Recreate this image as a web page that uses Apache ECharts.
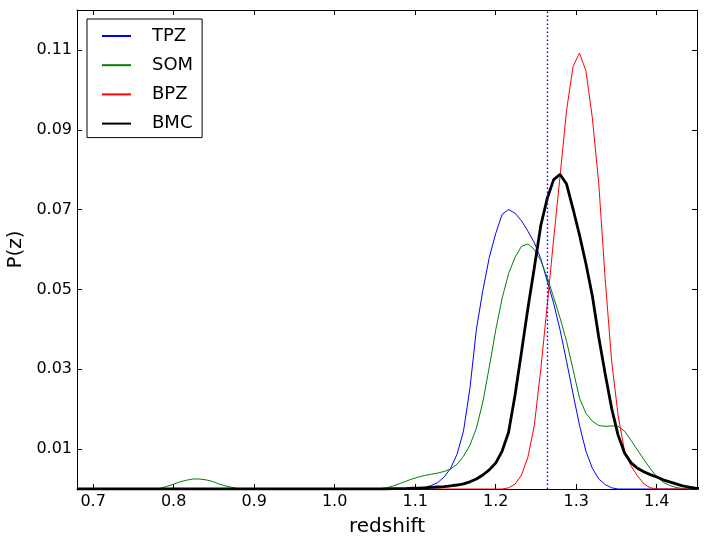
<!DOCTYPE html>
<html>
<head>
<meta charset="utf-8">
<script src="https://cdn.jsdelivr.net/npm/echarts@6/dist/echarts.min.js"></script>
<style>
  html, body { margin: 0; padding: 0; background: #fff; }
  #chart { width: 708px; height: 542px; }
</style>
</head>
<body>
<div id="chart"></div>
<script>
// redshift grid (step 0.008) for the main peak region
const redshift = [1.048, 1.056, 1.064, 1.072, 1.080, 1.088, 1.096, 1.104, 1.112, 1.120,
  1.128, 1.136, 1.144, 1.152, 1.160, 1.168, 1.176, 1.184, 1.192, 1.200,
  1.208, 1.216, 1.224, 1.232, 1.240, 1.248, 1.256, 1.264, 1.272, 1.280,
  1.288, 1.296, 1.304, 1.312, 1.320, 1.328, 1.336, 1.344, 1.352, 1.360,
  1.368, 1.376, 1.384, 1.392, 1.400, 1.408, 1.416, 1.424, 1.432, 1.440,
  1.448, 1.456];

const tpz = [0, 0, 0, 0, 0, 0, 0, 0.0001, 0.0004, 0.0009,
  0.0016, 0.003, 0.0052, 0.0087, 0.0145, 0.0252, 0.040, 0.0497, 0.058, 0.064,
  0.0688, 0.0700, 0.0691, 0.0672, 0.0646, 0.0617, 0.0577, 0.0521, 0.0465, 0.0398,
  0.032, 0.0239, 0.016, 0.0095, 0.0052, 0.0025, 0.0011, 0.0003, 0, 0,
  0, 0, 0, 0, 0, 0, 0, 0, 0, 0,
  0, 0];

const som = [0, 0.0001, 0.0003, 0.0007, 0.0013, 0.0019, 0.0025, 0.003, 0.0034, 0.0037,
  0.004, 0.0044, 0.005, 0.0062, 0.0082, 0.0110, 0.0152, 0.0218, 0.0305, 0.0398,
  0.0478, 0.054, 0.058, 0.0608, 0.0614, 0.060, 0.0572, 0.053, 0.048, 0.0428,
  0.037, 0.030, 0.0228, 0.019, 0.017, 0.0159, 0.0157, 0.0158, 0.0157, 0.0145,
  0.0122, 0.0098, 0.0074, 0.0051, 0.0031, 0.0017, 0.0009, 0.0004, 0.0001, 0,
  0, 0];

// small secondary SOM bump near z ~ 0.83
const somBumpZ = [0.776, 0.784, 0.792, 0.800, 0.808, 0.816, 0.824, 0.832, 0.840, 0.848,
  0.856, 0.864, 0.872, 0.880, 0.888];
const somBumpP = [0, 0.0002, 0.0007, 0.0012, 0.0018, 0.0022, 0.0025, 0.0025, 0.0023, 0.0019,
  0.0013, 0.0008, 0.0004, 0.0001, 0];

const bpz = [0, 0, 0, 0, 0, 0, 0, 0, 0, 0,
  0, 0, 0, 0, 0, 0, 0, 0, 0, 0,
  0, 0.0003, 0.0012, 0.0035, 0.008, 0.016, 0.030, 0.046, 0.0627, 0.0785,
  0.0948, 0.1058, 0.1092, 0.1048, 0.093, 0.0765, 0.0525, 0.032, 0.0185, 0.0095,
  0.0058, 0.0033, 0.0013, 0.0003, 0, 0, 0, 0, 0, 0,
  0, 0];

const bmc = [0, 0, 0, 0.0001, 0.0001, 0.0001, 0.0002, 0.0002, 0.0003, 0.0004,
  0.0005, 0.0006, 0.0008, 0.001, 0.0013, 0.0018, 0.0025, 0.0035, 0.0048, 0.0065,
  0.0095, 0.0142, 0.0235, 0.0343, 0.0453, 0.0555, 0.066, 0.0728, 0.0775, 0.0788,
  0.0764, 0.0702, 0.0637, 0.0565, 0.0484, 0.038, 0.0288, 0.0202, 0.0135, 0.009,
  0.0066, 0.0052, 0.0043, 0.0036, 0.003, 0.0023, 0.0018, 0.0013, 0.0008, 0.0005,
  0.0002, 0.0001];

const zMarker = 1.2643;

const xTicks = [0.7, 0.8, 0.9, 1.0, 1.1, 1.2, 1.3, 1.4];
const yTicks = [0.01, 0.03, 0.05, 0.07, 0.09, 0.11];

function pairs(z, p) {
  return z.map((v, i) => [v, p[i]]);
}

const font = 'DejaVu Sans';
const xMin = 0.68, xMax = 1.45;

const chart = echarts.init(document.getElementById('chart'));

function xAx(top) {
  return {
    type: 'value', min: xMin, max: xMax,
    position: top ? 'top' : 'bottom',
    name: top ? '' : 'redshift',
    nameLocation: 'middle', nameGap: 28,
    nameTextStyle: { fontFamily: font, fontSize: 20, color: '#000' },
    axisLine: { show: true, onZero: false, lineStyle: { color: '#000', width: 1 } },
    axisTick: { show: true, inside: true, length: 5, customValues: xTicks, lineStyle: { color: '#000' } },
    axisLabel: {
      show: !top, customValues: xTicks, margin: 5,
      fontFamily: font, fontSize: 16, color: '#000',
      formatter: v => v.toFixed(1)
    },
    splitLine: { show: false }
  };
}

function yAx(right) {
  return {
    type: 'value', min: 0, max: 0.12,
    position: right ? 'right' : 'left',
    name: right ? '' : 'P(z)',
    nameLocation: 'middle', nameGap: 44, nameRotate: 90,
    nameTextStyle: { fontFamily: font, fontSize: 20, color: '#000' },
    axisLine: { show: true, onZero: false, lineStyle: { color: '#000', width: 1 } },
    axisTick: { show: true, inside: true, length: 5, customValues: yTicks, lineStyle: { color: '#000' } },
    axisLabel: {
      show: !right, customValues: yTicks, margin: 5,
      fontFamily: font, fontSize: 16, color: '#000',
      formatter: v => v.toFixed(2)
    },
    splitLine: { show: false }
  };
}

function lineSeries(name, data, color, width) {
  return {
    name: name, type: 'line', data: data,
    xAxisIndex: 0, yAxisIndex: 0,
    symbol: 'none', smooth: false, animation: false,
    lineStyle: { color: color, width: width },
    itemStyle: { color: color }
  };
}

const tpzData = [[xMin, 0]].concat(pairs(redshift, tpz));
const somData = [[xMin, 0]].concat(pairs(somBumpZ, somBumpP), pairs(redshift, som));
const bpzData = [[xMin, 0]].concat(pairs(redshift, bpz));
const bmcData = [[xMin, 0]].concat(pairs(redshift, bmc));

const tpzSeries = lineSeries('TPZ', tpzData, '#0000ff', 1);
tpzSeries.markLine = {
  silent: true, symbol: 'none', animation: false, precision: 4,
  label: { show: false },
  lineStyle: { color: '#0000ff', type: [1.5, 2.5], width: 1.4, opacity: 1 },
  data: [{ xAxis: zMarker }]
};

const option = {
  backgroundColor: '#fff',
  animation: false,
  grid: { left: 77, right: 11, top: 10, bottom: 53, containLabel: false, outerBoundsMode: 'none' },
  legend: {
    orient: 'vertical', left: 87, top: 19,
    padding: [8, 9, 5, 14],
    backgroundColor: '#fff', borderColor: '#000', borderWidth: 1, borderRadius: 0,
    itemWidth: 29, itemHeight: 10, itemGap: 11.2,
    itemStyle: { opacity: 0 },
    textStyle: { fontFamily: font, fontSize: 18, color: '#000', lineHeight: 18, padding: [0, 0, 0, 16] },
    data: ['TPZ', 'SOM', 'BPZ', 'BMC']
  },
  xAxis: [xAx(false), xAx(true)],
  yAxis: [yAx(false), yAx(true)],
  series: [
    tpzSeries,
    lineSeries('SOM', somData, '#008000', 1),
    lineSeries('BPZ', bpzData, '#ff0000', 1),
    lineSeries('BMC', bmcData, '#000000', 2.8)
  ]
};

chart.setOption(option);
</script>
</body>
</html>
